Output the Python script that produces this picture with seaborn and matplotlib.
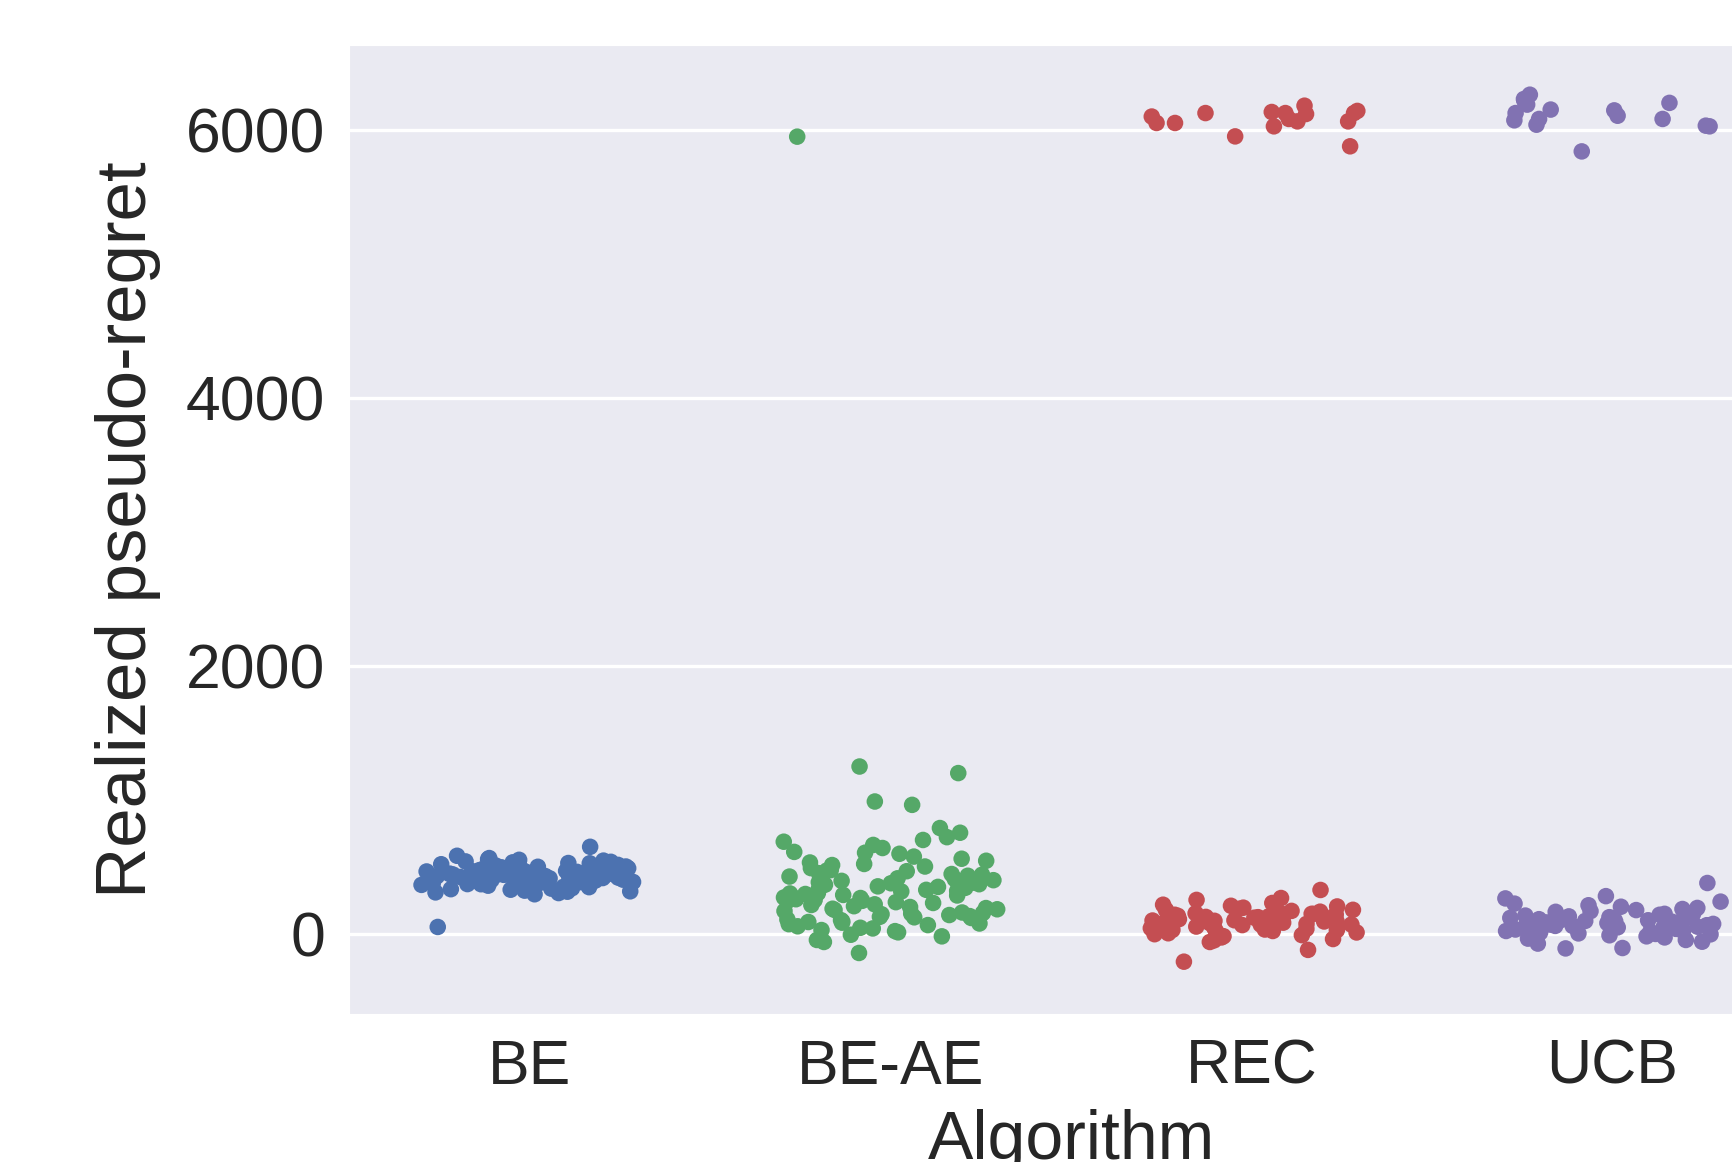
import matplotlib
matplotlib.use("Agg")
import matplotlib.pyplot as plt
import numpy as np
import pandas as pd
import seaborn as sns

# realized pseudo-regret per run
be = [52, 650, 412, 455, 388, 501, 347, 430, 476, 362, 529, 398, 441, 310, 487,
      420, 372, 553, 405, 466, 338, 492, 427, 381, 515, 449, 296, 438, 470, 356,
      541, 402, 459, 323, 484, 417, 390, 566, 432, 371, 508, 444, 352, 497, 411,
      463, 330, 476, 425, 386, 534, 451, 305, 440, 479, 366, 520, 408, 455, 341,
      490, 429, 377, 558, 415, 468, 318, 503, 436, 393, 547, 447, 360, 482, 421,
      462, 334, 511, 403, 373, 583, 433, 458, 349, 495, 418, 384, 527, 446, 315,
      472, 426, 399, 538, 452, 365, 487, 410, 443, 327]
be_ae = [5948, 1249, 1200, 988, 963, 790, 755, 722, 688, 664, 641, 612, 598, 577,
         561, 546, 533, 514, 503, 491, 476, 468, 453, 447, 434, 428, 415, 409, 401,
         396, 386, 382, 371, 367, 355, 351, 344, 333, 329, 321, 317, 305, 302, 291,
         287, 281, 272, 268, 259, 253, 244, 237, 231, 221, 216, 207, 201, 193, 184,
         179, 171, 160, 156, 147, 141, 133, 124, 119, 108, 103, 94, 89, 78, 73, 66,
         57, 46, 41, 29, 21, 12, -6, -18, -45, -60, -142, 522, 473, 412, 362, 298,
         247, 188, 128, 84, 378, 442, 606, 701, 152]
rec = [6117, 6050, 6179, 6062, 6025, 6124, 6080, 6062, 6124, 6050, 6124, 5876,
       5950, 6132, 6098, 6140,
       328, 268, -119, -207, -60, 254, 231, 218, 205, 196, 188, 180, 172, 166, 160,
       154, 149, 143, 138, 132, 127, 121, 116, 111, 106, 102, 97, 93, 88, 84, 79,
       75, 70, 66, 61, 57, 52, 47, 43, 38, 33, 28, 22, 17, 11, 5, -2, -9, -17,
       -26, -38, -48, 145, 120, 98, 76, 55, 180, 210, 135, 90, 60, 110, 150, 30,
       70, 125, 100]
ucb = [6030, 5838, 6080, 6104, 6219, 6187, 6037, 6080, 6124, 6070, 6025, 6229,
       6144, 6261, 6150, 6200,
       380, 282, 265, 241, 226, 214, 203, 194, 186, 178, 170, 163, 156, 149, 143,
       137, 131, 125, 119, 113, 108, 102, 97, 91, 86, 81, 76, 70, 65, 60, 54, 49,
       44, 38, 33, 27, 22, 16, 10, 4, -3, -10, -18, -26, -35, -45, -58, -72,
       -105, -108, 150, 120, 95, 70, 45, 20, 130, 165, 85, 55, 110, 140, 35, 0,
       75, 100, 60, 90]

algorithms = ["BE", "BE-AE", "REC", "UCB"]
colors = ["#4C72B0", "#55A868", "#C44E52", "#8172B2"]

df = pd.DataFrame({
    "Algorithm": ["BE"] * len(be) + ["BE-AE"] * len(be_ae)
                 + ["REC"] * len(rec) + ["UCB"] * len(ucb),
    "Realized pseudo-regret": be + be_ae + rec + ucb,
})

sns.set_style("darkgrid")
plt.rcParams["font.family"] = ["Liberation Sans", "DejaVu Sans"]
plt.rcParams["text.color"] = ".15"
plt.rcParams["axes.labelcolor"] = ".15"
plt.rcParams["xtick.color"] = ".15"
plt.rcParams["ytick.color"] = ".15"

fig = plt.figure(figsize=(17.33, 11.62), dpi=100)
ax = fig.add_axes([0.2014, 0.1274, 0.8332, 0.8339])

np.random.seed(7)
sns.stripplot(data=df, x="Algorithm", y="Realized pseudo-regret",
              hue="Algorithm", order=algorithms, hue_order=algorithms,
              palette=colors, jitter=0.3, size=11.9, linewidth=0,
              legend=False, ax=ax)

ax.set_xlim(-0.5, 3.5)
ax.set_ylim(-597, 6632)
ax.set_yticks([0, 2000, 4000, 6000])
ax.yaxis.grid(True, color="white", linewidth=2.4)
ax.xaxis.grid(False)
ax.tick_params(axis="both", labelsize=45, pad=17, length=0)
ax.set_xlabel("Algorithm", fontsize=49, labelpad=9)
ax.set_ylabel("Realized pseudo-regret", fontsize=51, labelpad=18)

fig.savefig("out.png", dpi=100)
